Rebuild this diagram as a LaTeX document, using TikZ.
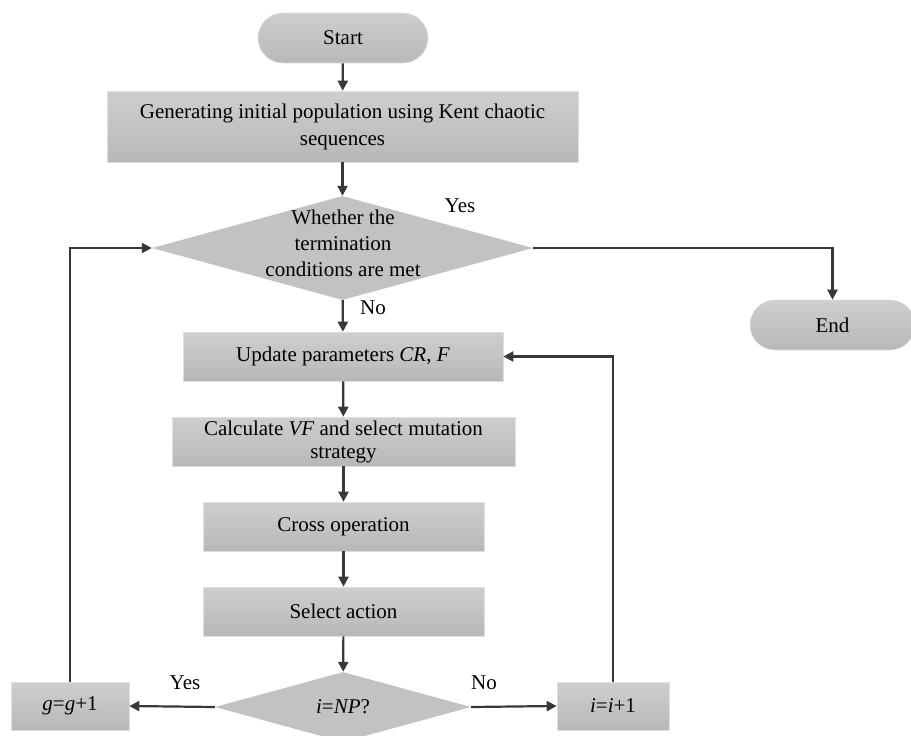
\documentclass[tikz,border=0pt]{standalone}
\usepackage{fontspec}
\setmainfont{Liberation Serif}
\usetikzlibrary{shapes.geometric,arrows.meta}

\definecolor{boxtop}{HTML}{CECECE}
\definecolor{boxbot}{HTML}{B8B8B8}
\definecolor{diafill}{HTML}{C2C2C2}
\definecolor{linegray}{HTML}{383838}

\tikzset{
  proc/.style={rectangle, top color=boxtop, bottom color=boxbot, draw=gray!25, line width=0.6pt,
    align=center, inner sep=0pt, minimum height=49pt},
  term/.style={proc, rounded corners=25pt, minimum height=50pt},
  decide/.style={diamond, fill=diafill, inner sep=0pt},
  flow/.style={draw=linegray, line width=2.2pt, -{Triangle[length=10pt,width=10pt]}},
  lbl/.style={inner sep=0pt}
}

\begin{document}
\begin{tikzpicture}[x=1pt, y=-1pt, font=\fontsize{21}{25}\selectfont]
  \useasboundingbox (0,0) rectangle (911,736);

  % main column
  \node[term, minimum width=170pt] (start) at (343,38) {Start};
  \node[proc, minimum width=471pt, minimum height=71pt, font=\fontsize{21}{27}\selectfont] (init) at (342.5,126.5)
    {Generating initial population using Kent chaotic\\sequences};
  \node[decide, minimum width=381pt, minimum height=104pt] (cond) at (342.5,248) {};
  \node[align=center, inner sep=0pt, font=\fontsize{21}{26}\selectfont] (condtext) at (343,243)
    {Whether the\\termination\\conditions are met};
  \node[term, minimum width=165pt] (end) at (832.5,325) {End};
  \node[proc, minimum width=320pt] (update) at (343,356.5) {Update parameters \textit{CR}, \textit{F}};
  \node[proc, minimum width=343pt, font=\fontsize{21}{23}\selectfont] (calc) at (343.5,441.5)
    {Calculate \textit{VF} and select mutation\\strategy};
  \node[proc, minimum width=281pt] (cross) at (343.5,526.5) {Cross operation};
  \node[proc, minimum width=281pt] (select) at (343.5,611.5) {Select action};
  \node[decide, minimum width=256pt, minimum height=70pt] (check) at (343,707) {\textit{i}=\textit{NP}?};

  % counters
  \node[proc, minimum width=118pt, minimum height=48pt] (ginc) at (70,706) {\textit{g}=\textit{g}+1};
  \node[proc, minimum width=112pt, minimum height=48pt] (iinc) at (613,706) {\textit{i}=\textit{i}+1};

  % connectors
  \draw[flow] (start) -- (init);
  \draw[flow] (init) -- (cond);
  \draw[flow] (cond) -- (update);
  \draw[flow] (update) -- (calc);
  \draw[flow] (calc) -- (cross);
  \draw[flow] (cross) -- (select);
  \draw[flow] (select) -- (check);
  \draw[flow] (cond.east) -| (end.north);
  \draw[flow] (check.west) -- (ginc.east);
  \draw[flow] (check.east) -- (iinc.west);
  \draw[flow] (ginc.north) |- (cond.west);
  \draw[flow] (iinc.north) |- (update.east);

  % labels
  \node[lbl] (yestop) at (460,206) {Yes};
  \node[lbl] (notop) at (373,308) {No};
  \node[lbl] (yesbot) at (185,683) {Yes};
  \node[lbl] (nobot) at (484,683) {No};
\end{tikzpicture}
\end{document}
